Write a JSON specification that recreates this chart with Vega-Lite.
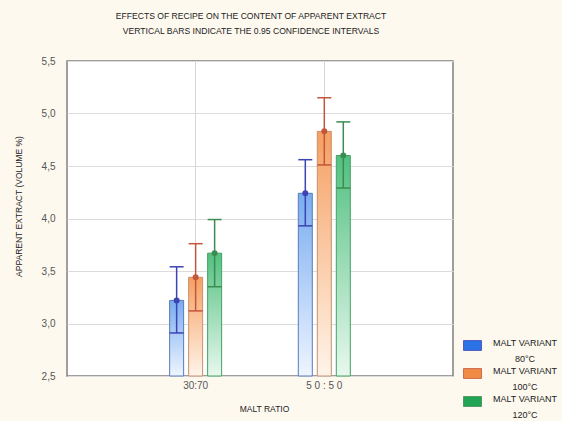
{
  "$schema": "https://vega.github.io/schema/vega-lite/v6.json",
  "width": 386,
  "height": 315,
  "autosize": "none",
  "padding": {"left": 67, "top": 61, "right": 109, "bottom": 45},
  "background": "#fdf9ef",
  "config": {
    "font": "Liberation Sans",
    "view": {"fill": "white", "stroke": "#808080", "strokeWidth": 1.5},
    "style": {"guide-label": {"lineHeight": 16}}
  },
  "title": {
    "text": ["EFFECTS OF RECIPE ON THE CONTENT OF APPARENT EXTRACT", "VERTICAL BARS INDICATE THE 0.95 CONFIDENCE INTERVALS"],
    "fontSize": 8.6,
    "fontWeight": "normal",
    "color": "#222",
    "lineHeight": 15,
    "offset": 20,
    "anchor": "middle",
    "dx": -9
  },
  "data": {
    "values": [
      {"ratio": "30:70", "variant": "80°C", "mean": 3.22, "lo": 2.91, "hi": 3.54},
      {"ratio": "30:70", "variant": "100°C", "mean": 3.44, "lo": 3.12, "hi": 3.76},
      {"ratio": "30:70", "variant": "120°C", "mean": 3.67, "lo": 3.35, "hi": 3.99},
      {"ratio": "50:50", "variant": "80°C", "mean": 4.24, "lo": 3.93, "hi": 4.56},
      {"ratio": "50:50", "variant": "100°C", "mean": 4.83, "lo": 4.51, "hi": 5.15},
      {"ratio": "50:50", "variant": "120°C", "mean": 4.6, "lo": 4.29, "hi": 4.92}
    ]
  },
  "encoding": {
    "x": {
      "field": "ratio",
      "type": "nominal",
      "sort": ["30:70", "50:50"],
      "scale": {"paddingInner": 0, "paddingOuter": 0.5},
      "axis": {
        "title": "MALT RATIO",
        "labelExpr": "datum.value === '50:50' ? '5 0 : 5 0' : datum.label",
        "labelAngle": 0,
        "labelFontSize": 10,
        "labelColor": "#555",
        "labelPadding": 4,
        "ticks": false,
        "domain": false,
        "grid": true,
        "gridColor": "#d6d6d6",
        "bandPosition": 0.5,
        "titleFontSize": 8.5,
        "titleFontWeight": "normal",
        "titleColor": "#222",
        "titleX": 197,
        "titleY": 32,
        "titleBaseline": "middle"
      }
    },
    "xOffset": {
      "field": "variant",
      "type": "nominal",
      "scale": {"domain": ["80°C", "100°C", "120°C"], "range": [38.3, 90.3], "paddingInner": 0.263, "paddingOuter": 0}
    }
  },
  "layer": [
    {
      "transform": [{"filter": "datum.variant === '80°C'"}],
      "mark": {
        "type": "bar",
        "width": 14,
        "stroke": "#5a7ab8",
        "strokeWidth": 1,
        "fill": {"gradient": "linear", "x1": 0, "y1": 0, "x2": 0, "y2": 1, "stops": [{"offset": 0, "color": "#78acf0"}, {"offset": 1, "color": "#eef5ff"}]}
      },
      "encoding": {
        "y": {
          "field": "mean",
          "type": "quantitative",
          "scale": {"domain": [2.5, 5.5], "nice": false, "zero": false},
          "axis": {
            "values": [2.5, 3, 3.5, 4, 4.5, 5, 5.5],
            "labelExpr": "replace(format(datum.value, '.1f'), '.', ',')",
            "labelFontSize": 10,
            "labelColor": "#555",
            "labelPadding": 12,
            "ticks": false,
            "domain": false,
            "gridColor": "#dcdcdc",
            "title": "APPARENT EXTRACT (VOLUME %)",
            "titleFontSize": 8.5,
            "titleFontWeight": "normal",
            "titleColor": "#222",
            "titleX": -49,
            "titleY": 145,
            "titleAngle": -90,
            "titleAlign": "center",
            "titleBaseline": "middle"
          }
        },
        "y2": {"datum": 2.5}
      }
    },
    {
      "transform": [{"filter": "datum.variant === '100°C'"}],
      "mark": {
        "type": "bar",
        "width": 14,
        "stroke": "#c8906c",
        "strokeWidth": 1,
        "fill": {"gradient": "linear", "x1": 0, "y1": 0, "x2": 0, "y2": 1, "stops": [{"offset": 0, "color": "#f5a062"}, {"offset": 1, "color": "#fff4ea"}]}
      },
      "encoding": {
        "y": {"field": "mean", "type": "quantitative"},
        "y2": {"datum": 2.5}
      }
    },
    {
      "transform": [{"filter": "datum.variant === '120°C'"}],
      "mark": {
        "type": "bar",
        "width": 14,
        "stroke": "#42a262",
        "strokeWidth": 1,
        "fill": {"gradient": "linear", "x1": 0, "y1": 0, "x2": 0, "y2": 1, "stops": [{"offset": 0, "color": "#52c080"}, {"offset": 1, "color": "#e8f8ee"}]}
      },
      "encoding": {
        "y": {"field": "mean", "type": "quantitative"},
        "y2": {"datum": 2.5}
      }
    },
    {
      "mark": {"type": "rule", "strokeWidth": 1.5},
      "encoding": {
        "y": {"field": "lo", "type": "quantitative"},
        "y2": {"field": "hi"},
        "stroke": {"field": "variant", "type": "nominal", "scale": {"domain": ["80°C", "100°C", "120°C"], "range": ["#3c44b4", "#c4563e", "#3c8c52"]}}
      }
    },
    {
      "mark": {"type": "point", "shape": "M-1,0H1", "size": 196, "strokeWidth": 1.5, "filled": false, "opacity": 1},
      "encoding": {
        "y": {"field": "hi", "type": "quantitative"},
        "stroke": {"field": "variant", "type": "nominal"}
      }
    },
    {
      "mark": {"type": "point", "shape": "M-1,0H1", "size": 196, "strokeWidth": 1.5, "filled": false, "opacity": 1},
      "encoding": {
        "y": {"field": "lo", "type": "quantitative"},
        "stroke": {"field": "variant", "type": "nominal"}
      }
    },
    {
      "mark": {"type": "point", "shape": "circle", "size": 8, "strokeWidth": 3.2, "filled": false, "opacity": 1},
      "encoding": {
        "y": {"field": "mean", "type": "quantitative"},
        "stroke": {"field": "variant", "type": "nominal"}
      }
    },
    {
      "mark": {"type": "point", "filled": true, "size": 0, "opacity": 1, "shape": "M-1,-0.55H1V0.55H-1Z"},
      "encoding": {
        "y": {"field": "mean", "type": "quantitative"},
        "color": {
          "field": "variant",
          "type": "nominal",
          "scale": {"domain": ["80°C", "100°C", "120°C"], "range": ["#2a72e6", "#f08a44", "#22a455"]},
          "legend": {
            "title": null,
            "orient": "none",
            "legendX": 396,
            "legendY": 275,
            "padding": 0,
            "symbolType": "M-1,-0.55H1V0.55H-1Z",
            "symbolSize": 324,
            "symbolOpacity": 1,
            "symbolStrokeWidth": 0.8,
            "labelExpr": "['MALT VARIANT', datum.label]",
            "labelAlign": "center",
            "labelBaseline": "alphabetic",
            "labelOffset": 43,
            "labelFontSize": 9,
            "labelColor": "#222",
            "labelLimit": 200,
            "rowPadding": -3
          }
        }
      }
    }
  ]
}
